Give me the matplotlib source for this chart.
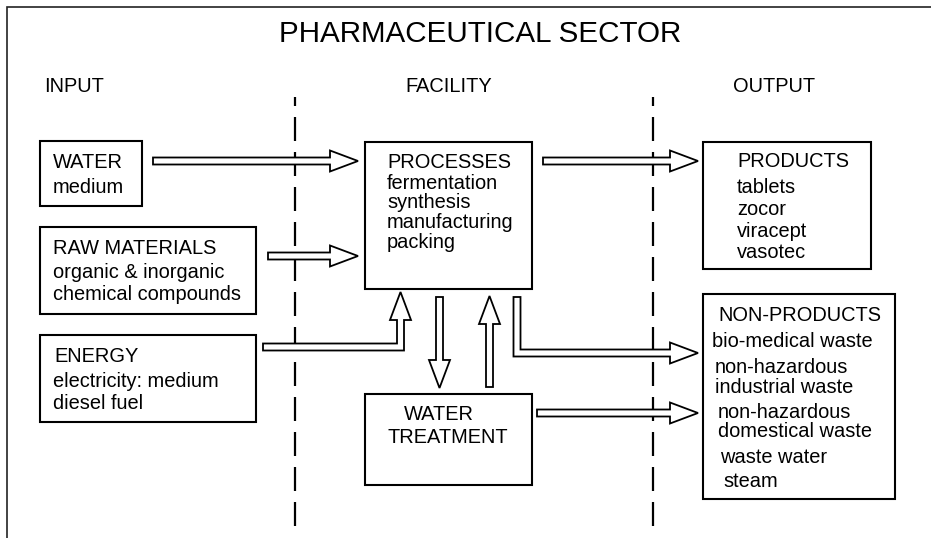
import matplotlib
matplotlib.use('Agg')
import matplotlib.pyplot as plt
from matplotlib.patches import Rectangle, Polygon

plt.rcParams['font.family'] = ['Liberation Sans', 'DejaVu Sans']
plt.rcParams['lines.scale_dashes'] = False

# text content
title = 'PHARMACEUTICAL SECTOR'
columns = ['INPUT', 'FACILITY', 'OUTPUT']
water_lines = ['WATER', 'medium']
raw_lines = ['RAW MATERIALS', 'organic & inorganic', 'chemical compounds']
energy_lines = ['ENERGY', 'electricity: medium', 'diesel fuel']
process_lines = ['PROCESSES', 'fermentation', 'synthesis', 'manufacturing', 'packing']
treatment_lines = ['WATER', 'TREATMENT']
product_lines = ['PRODUCTS', 'tablets', 'zocor', 'viracept', 'vasotec']
nonproduct_lines = ['NON-PRODUCTS', 'bio-medical waste', 'non-hazardous', 'industrial waste',
                    'non-hazardous', 'domestical waste', 'waste water', 'steam']

# layout in pixels (y down): box rect, text x for each line, baseline for each line
boxes = [
    ((40, 141, 142, 206), water_lines, [53, 53], [168, 193]),
    ((40, 227, 256, 314), raw_lines, [53, 53, 53], [254, 278, 300]),
    ((40, 335, 256, 422), energy_lines, [54, 53, 53], [362, 387, 409]),
    ((365, 142, 532, 289), process_lines, [387] * 5, [168, 189, 208, 228, 248]),
    ((365, 394, 532, 485), treatment_lines, [404, 388], [420, 443]),
    ((703, 142, 871, 269), product_lines, [737] * 5, [167, 193, 215, 237, 258]),
    ((703, 294, 895, 499), nonproduct_lines, [718, 712, 715, 715, 718, 718, 720, 723],
     [321, 347, 373, 393, 418, 437, 463, 487]),
]

HW, HH, HL = 3.5, 10.5, 28


def arrow_right(x0, x1, y):
    return [(x0, y - HW), (x1 - HL, y - HW), (x1 - HL, y - HH), (x1, y),
            (x1 - HL, y + HH), (x1 - HL, y + HW), (x0, y + HW)]


def arrow_vert(x, y0, y1):
    s = 1 if y1 > y0 else -1
    yb = y1 - s * HL
    return [(x - HW, y0), (x - HW, yb), (x - HH, yb), (x, y1),
            (x + HH, yb), (x + HW, yb), (x + HW, y0)]


def arrow_right_then_up(x0, y, xb, y1):
    yb = y1 + HL
    return [(x0, y - HW), (xb - HW, y - HW), (xb - HW, yb), (xb - HH, yb), (xb, y1),
            (xb + HH, yb), (xb + HW, yb), (xb + HW, y + HW), (x0, y + HW)]


def arrow_down_then_right(x, y0, yb, x1):
    xh = x1 - HL
    return [(x - HW, y0), (x - HW, yb + HW), (xh, yb + HW), (xh, yb + HH), (x1, yb),
            (xh, yb - HH), (xh, yb - HW), (x + HW, yb - HW), (x + HW, y0)]


arrows = [
    arrow_right(153, 358, 161),
    arrow_right(543, 698, 161),
    arrow_right(268, 358, 256),
    arrow_right_then_up(263, 347, 400.5, 292),
    arrow_vert(439.5, 297, 388),
    arrow_vert(489.5, 387, 296),
    arrow_down_then_right(517, 297, 353, 698),
    arrow_right(537, 698, 413),
]

fig = plt.figure(figsize=(9.31, 5.38), dpi=100)
ax = fig.add_axes([0, 0, 1, 1])
ax.set_xlim(0, 931)
ax.set_ylim(538, 0)
ax.axis('off')

# outer frame (top and left only)
ax.plot([7, 7, 931], [538, 7, 7], color='#222222', lw=1.2, solid_joinstyle='miter')

# dashed separators
for xd in [295, 653]:
    ax.plot([xd, xd], [97, 528], color='black', lw=1.6,
            linestyle=(15 * 0.72, (24 * 0.72, 11 * 0.72)), dash_capstyle='butt')

ax.text(480, 41.7, title, fontsize=21.3, ha='center', va='baseline')
for name, xc in zip(columns, [74, 449, 774]):
    ax.text(xc, 92, name, fontsize=14.4, ha='center', va='baseline')

for (x0, y0, x1, y1), lines, xs, ys in boxes:
    ax.add_patch(Rectangle((x0, y0), x1 - x0, y1 - y0, fill=False,
                           edgecolor='black', lw=1.5, joinstyle='miter'))
    for s, tx, ty in zip(lines, xs, ys):
        ax.text(tx, ty, s, fontsize=14.4, ha='left', va='baseline')

for pts in arrows:
    ax.add_patch(Polygon(pts, closed=True, facecolor='white',
                         edgecolor='black', lw=1.3, joinstyle='miter', zorder=3))

fig.savefig('out.png', dpi=100)
